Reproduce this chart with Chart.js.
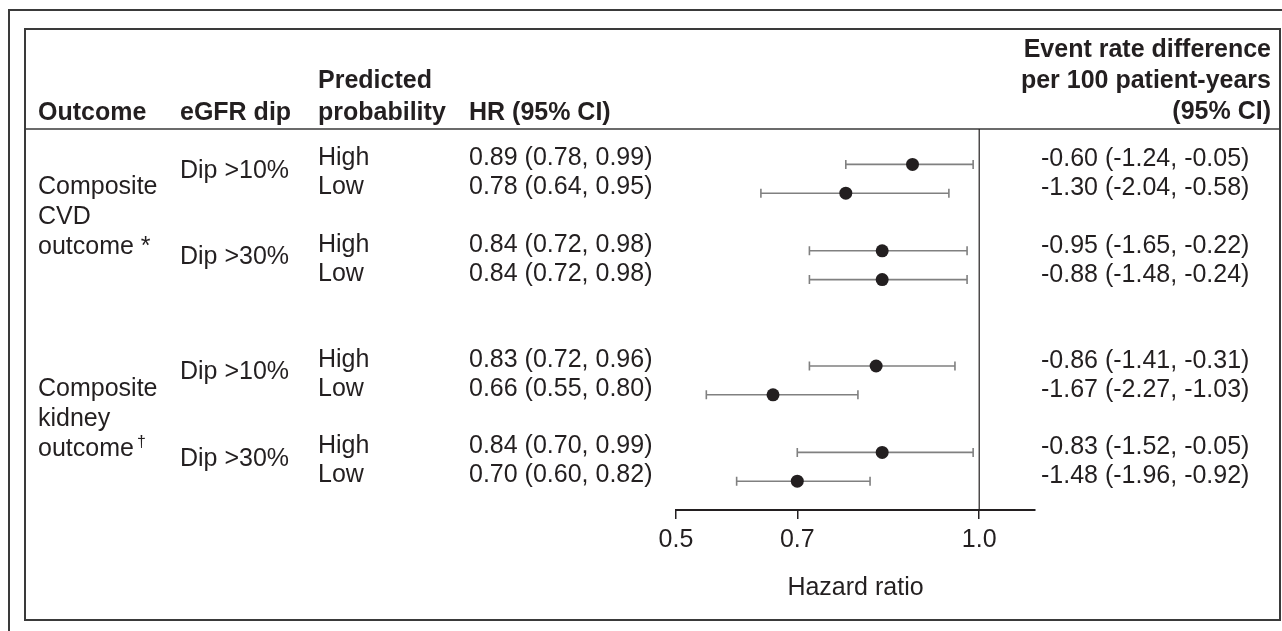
<!DOCTYPE html>
<html>
<head>
<meta charset="utf-8">
<script src="https://cdn.jsdelivr.net/npm/chart.js@4"></script>
<style>
    body { margin: 0; background: #fff; }
    canvas { display: block; }
</style>
</head>
<body>
<canvas id="forest" width="1282" height="631"></canvas>
<script>
// table data
const outcomeLines = [['Composite', 'CVD', 'outcome'], ['Composite', 'kidney', 'outcome']];
const outcomeMarks = [' *', '†'];
const dipLabels = ['Dip >10%', 'Dip >30%', 'Dip >10%', 'Dip >30%'];
const probLabels = ['High', 'Low', 'High', 'Low', 'High', 'Low', 'High', 'Low'];
const rowPos = [0, 1, 3, 4, 7, 8, 10, 11];

// hazard ratios
const hr = [0.89, 0.78, 0.84, 0.84, 0.83, 0.66, 0.84, 0.70];
const hrLow = [0.78, 0.64, 0.72, 0.72, 0.72, 0.55, 0.70, 0.60];
const hrHigh = [0.99, 0.95, 0.98, 0.98, 0.96, 0.80, 0.99, 0.82];

// event rate difference per 100 patient-years
const erd = [-0.60, -1.30, -0.95, -0.88, -0.86, -1.67, -0.83, -1.48];
const erdLow = [-1.24, -2.04, -1.65, -1.48, -1.41, -2.27, -1.52, -1.96];
const erdHigh = [-0.05, -0.58, -0.22, -0.24, -0.31, -1.03, -0.05, -0.92];

const xTicks = [0.5, 0.7, 1.0];

document.addEventListener('DOMContentLoaded', () => {
    const ink = '#231f20';
    const font = '"Liberation Sans", Arial, Helvetica, sans-serif';
    const size = 25;
    const fmt = v => v.toFixed(2);

    const tablePlugin = {
        id: 'table',
        beforeDraw(chart) {
            const ctx = chart.ctx;
            ctx.save();
            ctx.fillStyle = '#fff';
            ctx.fillRect(0, 0, chart.width, chart.height);

            // frames
            ctx.strokeStyle = '#3a3a3a';
            ctx.lineWidth = 2;
            ctx.beginPath();
            ctx.moveTo(9, 631);
            ctx.lineTo(9, 10);
            ctx.lineTo(1282, 10);
            ctx.stroke();
            ctx.strokeRect(25, 29, 1255, 591);

            // header rule
            ctx.lineWidth = 1.5;
            ctx.beginPath();
            ctx.moveTo(25, chart.chartArea.top);
            ctx.lineTo(1280, chart.chartArea.top);
            ctx.stroke();

            // headers
            ctx.fillStyle = ink;
            ctx.font = 'bold ' + size + 'px ' + font;
            ctx.textBaseline = 'alphabetic';
            ctx.textAlign = 'left';
            ctx.fillText('Outcome', 38, 120);
            ctx.fillText('eGFR dip', 180, 120);
            ctx.fillText('Predicted', 318, 88);
            ctx.fillText('probability', 318, 120);
            ctx.fillText('HR (95% CI)', 469, 120);
            ctx.textAlign = 'right';
            ctx.fillText('Event rate difference', 1271, 57);
            ctx.fillText('per 100 patient-years', 1271, 88);
            ctx.fillText('(95% CI)', 1271, 119);
            ctx.restore();
        },
        beforeDatasetsDraw(chart) {
            const ctx = chart.ctx;
            const x = chart.scales.x;
            const y = chart.scales.y;
            const area = chart.chartArea;
            ctx.save();

            // reference line at HR = 1
            ctx.strokeStyle = ink;
            ctx.lineWidth = 1.2;
            ctx.beginPath();
            ctx.moveTo(x.getPixelForValue(1), area.top);
            ctx.lineTo(x.getPixelForValue(1), area.bottom);
            ctx.stroke();

            // confidence intervals
            ctx.strokeStyle = '#808080';
            ctx.lineWidth = 1.6;
            rowPos.forEach((r, i) => {
                const py = y.getPixelForValue(r);
                const x0 = x.getPixelForValue(hrLow[i]);
                const x1 = x.getPixelForValue(hrHigh[i]);
                ctx.beginPath();
                ctx.moveTo(x0, py);
                ctx.lineTo(x1, py);
                ctx.moveTo(x0, py - 4.5);
                ctx.lineTo(x0, py + 4.5);
                ctx.moveTo(x1, py - 4.5);
                ctx.lineTo(x1, py + 4.5);
                ctx.stroke();
            });
            ctx.restore();
        },
        afterDraw(chart) {
            const ctx = chart.ctx;
            const y = chart.scales.y;
            ctx.save();
            ctx.fillStyle = ink;
            ctx.font = size + 'px ' + font;
            ctx.textBaseline = 'alphabetic';
            ctx.textAlign = 'left';

            rowPos.forEach((r, i) => {
                const py = y.getPixelForValue(r) + 1;
                ctx.fillText(probLabels[i], 318, py);
                ctx.fillText(fmt(hr[i]) + ' (' + fmt(hrLow[i]) + ', ' + fmt(hrHigh[i]) + ')', 469, py);
                ctx.fillText(fmt(erd[i]) + ' (' + fmt(erdLow[i]) + ', ' + fmt(erdHigh[i]) + ')', 1041, py + 1);
            });

            dipLabels.forEach((label, k) => {
                const mid = (y.getPixelForValue(rowPos[k * 2]) + y.getPixelForValue(rowPos[k * 2 + 1])) / 2;
                ctx.fillText(label, 180, mid - 1);
            });

            outcomeLines.forEach((lines, k) => {
                const base = y.getPixelForValue(rowPos[k * 4 + 1]) + 1;
                lines.forEach((line, j) => {
                    ctx.font = size + 'px ' + font;
                    const ly = base + j * 30;
                    ctx.fillText(line, 38, ly);
                    if (j === lines.length - 1) {
                        const w = ctx.measureText(line).width;
                        if (outcomeMarks[k] === '†') {
                            ctx.font = '16px ' + font;
                            ctx.fillText(outcomeMarks[k], 38 + w + 3, ly - 9);
                        } else {
                            ctx.fillText(outcomeMarks[k], 38 + w, ly);
                        }
                    }
                });
            });
            ctx.restore();
        }
    };

    new Chart(document.getElementById('forest'), {
        type: 'scatter',
        data: {
            datasets: [{
                label: 'HR',
                data: hr.map((v, i) => ({ x: v, y: rowPos[i] })),
                backgroundColor: ink,
                borderWidth: 0,
                pointRadius: 6.5,
                pointHoverRadius: 6.5
            }]
        },
        options: {
            responsive: false,
            animation: false,
            devicePixelRatio: 1,
            layout: {
                padding: { left: 676, right: 247, top: 129, bottom: 28 }
            },
            plugins: {
                legend: { display: false },
                tooltip: { enabled: false }
            },
            scales: {
                x: {
                    type: 'linear',
                    min: 0.5,
                    max: 1.092,
                    afterBuildTicks: scale => {
                        scale.ticks = xTicks.map(v => ({ value: v }));
                    },
                    ticks: {
                        color: ink,
                        padding: 6.5,
                        font: { family: font, size: size },
                        callback: value => value.toFixed(1)
                    },
                    grid: {
                        drawOnChartArea: false,
                        drawTicks: true,
                        tickLength: 9,
                        color: ink,
                        lineWidth: 1.5
                    },
                    border: { display: true, color: ink, width: 2 },
                    title: {
                        display: true,
                        text: 'Hazard ratio',
                        color: ink,
                        padding: { top: 11, bottom: 0 },
                        font: { family: font, size: size }
                    }
                },
                y: {
                    type: 'linear',
                    display: false,
                    reverse: true,
                    min: -1.23,
                    max: 12
                }
            }
        },
        plugins: [tablePlugin]
    });
});
</script>
</body>
</html>
